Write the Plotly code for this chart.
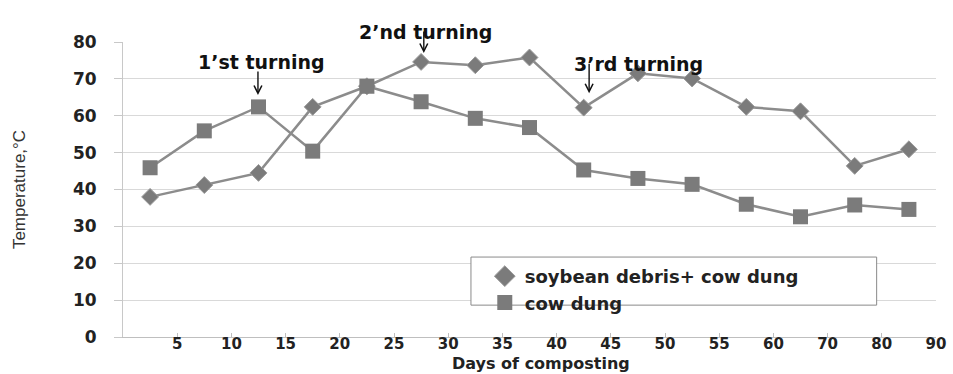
import plotly.graph_objects as go
import numpy as np

# ---- data ----
tick_labels = ["5", "10", "15", "20", "25", "30", "35", "40", "45", "50",
               "55", "60", "70", "80", "90"]
soybean_cow = [38.0, 41.2, 44.5, 62.4, 68.0, 74.6, 73.7, 75.8, 62.2, 71.5,
               70.1, 62.4, 61.2, 46.4, 50.9]
cow_dung = [45.9, 55.9, 62.4, 50.4, 68.0, 63.8, 59.3, 56.8, 45.3, 43.0,
            41.4, 36.0, 32.6, 35.8, 34.6]
y_ticks = [0, 10, 20, 30, 40, 50, 60, 70, 80]
series_names = ["soybean debris+ cow dung", "cow dung"]

# category centres (points sit between the labelled tick marks)
x_pos = np.arange(len(soybean_cow)) + 0.5
tick_pos = np.arange(1, len(tick_labels) + 1)

FONT = "DejaVu Sans"
LINE_C = "#8c8c8c"
MARK_C = "#7b7b7b"

fig = go.Figure()
fig.add_trace(go.Scatter(
    x=x_pos, y=soybean_cow, name=series_names[0], showlegend=False,
    mode="lines+markers",
    line=dict(color=LINE_C, width=2.5),
    marker=dict(symbol="diamond", size=13, color=MARK_C,
                line=dict(color="#9a9a9a", width=1)),
))
fig.add_trace(go.Scatter(
    x=x_pos, y=cow_dung, name=series_names[1], showlegend=False,
    mode="lines+markers",
    line=dict(color=LINE_C, width=2.5),
    marker=dict(symbol="square", size=15, color=MARK_C),
))
# marker-only legend entries
fig.add_trace(go.Scatter(
    x=[None], y=[None], name=series_names[0], mode="markers",
    marker=dict(symbol="diamond", size=16, color=MARK_C,
                line=dict(color="#9a9a9a", width=1)),
))
fig.add_trace(go.Scatter(
    x=[None], y=[None], name=series_names[1], mode="markers",
    marker=dict(symbol="square", size=15, color=MARK_C),
))

txt_font = dict(family=FONT, size=19, color="#111", weight="bold")

annotations = [
    dict(x=2.55, y=74.5, text="1’st turning", showarrow=False, font=txt_font),
    dict(x=5.59, xref="x", y=1.077, yref="paper", text="2’nd turning",
         showarrow=False, font=txt_font),
    dict(x=9.52, y=74.0, text="3’rd turning", showarrow=False, font=txt_font),
    # x-axis title
    dict(x=0.514, xref="paper", y=-0.125, yref="paper", yanchor="bottom",
         text="Days of composting", showarrow=False, borderpad=0,
         font=dict(family=FONT, size=16, color="#222", weight="bold")),
]
for ax_x, ax_y, alen in [(2.49, 65.6, -25), (5.55, 77.0, -23), (8.6, 66.1, -31)]:
    annotations.append(dict(
        x=ax_x, y=ax_y, text="", showarrow=True, ax=0, ay=alen,
        arrowhead=5, arrowsize=1.1, arrowwidth=1.4, arrowcolor="#111",
    ))

# legend frame (wider than the entries, as in the original)
shapes = [dict(type="rect", xref="paper", yref="paper",
               x0=0.428, x1=0.927, y0=0.108, y1=0.271,
               line=dict(color="#8a8a8a", width=1), fillcolor="white",
               layer="above")]

fig.update_layout(
    width=953, height=374,
    margin=dict(l=123, r=17, t=42, b=37),
    paper_bgcolor="white", plot_bgcolor="white",
    font=dict(family=FONT, size=16, color="#222"),
    showlegend=True,
    legend=dict(
        x=0.445, y=0.268, xanchor="left", yanchor="top",
        borderwidth=0, bgcolor="rgba(0,0,0,0)",
        font=dict(family=FONT, size=18, color="#222", weight="bold"),
        tracegroupgap=0, itemsizing="trace",
    ),
    shapes=shapes,
    annotations=annotations,
    xaxis=dict(
        range=[0, len(tick_labels)], automargin=False,
        tickmode="array", tickvals=tick_pos, ticktext=tick_labels,
        ticks="inside", ticklen=4, tickcolor="#bfbfbf",
        ticklabelstandoff=-7,
        showline=True, linecolor="#bfbfbf", linewidth=1,
        showgrid=False, zeroline=False,
        tickfont=dict(family=FONT, size=15, color="#222", weight="bold"),
    ),
    yaxis=dict(
        range=[0, 80], automargin=False, tickmode="array", tickvals=y_ticks,
        ticks="outside", ticklen=8, tickcolor="#c8c8c8",
        ticklabelstandoff=14,
        showline=True, linecolor="#c8c8c8", linewidth=1,
        showgrid=True, gridcolor="#d9d9d9", gridwidth=1,
        zeroline=False,
        tickfont=dict(family=FONT, size=17, color="#222", weight="bold"),
        title=dict(text="Temperature,°C", standoff=42,
                   font=dict(family="Liberation Sans Narrow, Liberation Sans",
                             size=17, color="#333")),
    ),
)

fig.write_html("out.html")
